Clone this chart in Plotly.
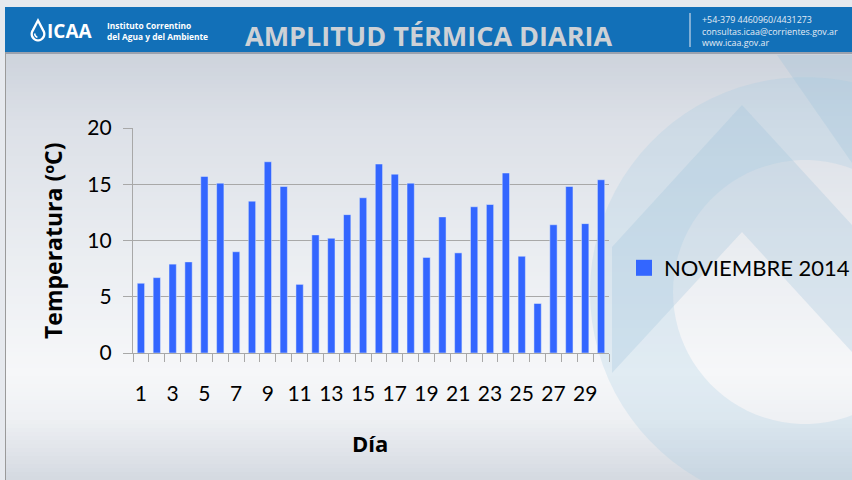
import math
import plotly.graph_objects as go

# Daily thermal amplitude, November 2014
dias = list(range(1, 31))
amplitud = [6.2, 6.7, 7.9, 8.1, 15.7, 15.1, 9.0, 13.5, 17.0, 14.8,
            6.1, 10.5, 10.2, 12.3, 13.8, 16.8, 15.9, 15.1, 8.5, 12.1,
            8.9, 13.0, 13.2, 16.0, 8.6, 4.4, 11.4, 14.8, 11.5, 15.4]
serie = "NOVIEMBRE 2014"
etiquetas_x = [d for d in dias if d % 2 == 1]
etiquetas_y = [0, 5, 10, 15, 20]

W, H = 852, 480
PL, PR, PT, PB = 133, 609, 128, 353
BAR = "#3366ff"
GRID = "#a8a8a8"
FONT = "Lato"
BOLD = "Open Sans"


def px(x):
    return (x - PL) / (PR - PL)


def py(y):
    return (PB - y) / (PB - PT)


def poly(points):
    return "M" + "L".join(f"{px(x):.5f},{py(y):.5f}" for x, y in points) + "Z"


def lerp_hex(c1, c2, t):
    a = [int(c1[i:i + 2], 16) for i in (1, 3, 5)]
    b = [int(c2[i:i + 2], 16) for i in (1, 3, 5)]
    return "#" + "".join(f"{round(a[k] + (b[k] - a[k]) * t):02x}" for k in range(3))


shapes = []

# slide background: vertical gradient built from thin bands
stops = [(52, "#cdd3dc"), (120, "#dce0e7"), (250, "#eaedf1"),
         (370, "#f6f7f9"), (415, "#eff1f4"), (480, "#d3d8e0")]
y = 52
step = 4
while y < H:
    for (y0, c0), (y1, c1) in zip(stops, stops[1:]):
        if y0 <= y <= y1:
            col = lerp_hex(c0, c1, (y - y0) / (y1 - y0))
            break
    shapes.append(dict(type="rect", xref="paper", yref="paper",
                       x0=px(5), x1=px(W), y0=py(y + step + 0.5), y1=py(y),
                       fillcolor=col, line_width=0, layer="below"))
    y += step

# watermark: chevron and ring of the institute's logo
wm = "rgba(150,190,215,0.26)"
shapes.append(dict(type="path", xref="paper", yref="paper", layer="below",
                   path=poly([(777, 55), (852, 55), (852, 163)]),
                   fillcolor=wm, line_width=0))
shapes.append(dict(type="path", xref="paper", yref="paper", layer="below",
                   path=poly([(742, 105), (852, 225), (852, 352), (742, 232),
                              (612, 373), (612, 247)]),
                   fillcolor=wm, line_width=0))

cx, cy, r_out, r_in = 805, 292, 215, 132
outer = [(cx + r_out * math.cos(math.radians(a)), cy + r_out * math.sin(math.radians(a)))
         for a in range(0, 361, 4)]
inner = [(cx + r_in * math.cos(math.radians(a)), cy + r_in * math.sin(math.radians(a)))
         for a in range(360, -1, -4)]
ring = poly(outer) + poly(inner)
shapes.append(dict(type="path", xref="paper", yref="paper", layer="below",
                   path=ring, fillcolor="rgba(160,200,225,0.24)", line_width=0))

# header band
shapes.append(dict(type="rect", xref="paper", yref="paper", layer="below",
                   x0=px(5), x1=px(W), y0=py(54), y1=py(52),
                   fillcolor="rgba(60,70,90,0.35)", line_width=0))
shapes.append(dict(type="rect", xref="paper", yref="paper", layer="below",
                   x0=px(5), x1=px(W), y0=py(52), y1=py(7),
                   fillcolor="#1270b8", line_width=0))
# left frame line
shapes.append(dict(type="line", xref="paper", yref="paper", layer="below",
                   x0=px(5.5), x1=px(5.5), y0=py(H), y1=py(52),
                   line=dict(color="#9a9a9a", width=1)))
# divider beside the contact block
shapes.append(dict(type="line", xref="paper", yref="paper", layer="below",
                   x0=px(690), x1=px(690), y0=py(47), y1=py(13),
                   line=dict(color="#c9d9ea", width=1.2)))

# drop symbol
dcx, dcy, dr = 38, 34, 6.3
drop = [(38, 20.5)]
drop += [(dcx + dr * math.cos(math.radians(a)), dcy + dr * math.sin(math.radians(a)))
         for a in range(-35, 216, 10)]
shapes.append(dict(type="path", xref="paper", yref="paper", layer="above",
                   path=poly(drop), fillcolor="rgba(0,0,0,0)",
                   line=dict(color="white", width=2.3)))
shapes.append(dict(type="path", xref="paper", yref="paper", layer="above",
                   path="M" + "L".join(f"{px(dcx + 3.2 * math.cos(math.radians(a))):.5f},"
                                       f"{py(dcy + 3.2 * math.sin(math.radians(a))):.5f}"
                                       for a in range(100, 200, 15)),
                   line=dict(color="white", width=1.6)))

annotations = [
    dict(text="<b>AMPLITUD TÉRMICA DIARIA</b>", x=px(428), y=py(35),
         font=dict(family=BOLD, size=27, color="#cdd1d6")),
    dict(text="<b>ICAA</b>", x=px(70), y=py(31),
         font=dict(family=BOLD, size=19, color="white")),
    dict(text="<b>Instituto Correntino<br>del Agua y del Ambiente</b>", x=px(105), y=py(30.5),
         xanchor="left", align="left",
         font=dict(family=BOLD, size=8.4, color="white")),
    dict(text="+54-379 4460960/4431273<br>consultas.icaa@corrientes.gov.ar<br>www.icaa.gov.ar",
         x=px(700), y=py(30.5), xanchor="left", align="left",
         font=dict(family=BOLD, size=8.9, color="#e4ecf5")),
    dict(text="<b>Día</b>", x=px(370), y=py(443),
         font=dict(family=BOLD, size=22, color="black")),
    dict(text="<b>Temperatura (ºC)</b>", x=px(53), y=py(241), textangle=-90,
         font=dict(family=BOLD, size=23, color="black")),
]
for a in annotations:
    a.update(xref="paper", yref="paper", showarrow=False)
    a.setdefault("xanchor", "center")
    a.setdefault("yanchor", "middle")

fig = go.Figure()
fig.add_trace(go.Bar(x=dias, y=amplitud, marker_color=BAR, showlegend=False,
                     name=serie))
# legend entry with a larger square key
fig.add_trace(go.Scatter(x=[None], y=[None], mode="markers", name=serie,
                         marker=dict(symbol="square", size=17, color=BAR)))

fronteras = [d - 0.5 for d in dias] + [dias[-1] + 0.5]

fig.update_layout(
    width=W, height=H,
    margin=dict(l=PL, r=W - PR, t=PT, b=H - PB, pad=0, autoexpand=False),
    paper_bgcolor="#e6e9ee",
    plot_bgcolor="rgba(0,0,0,0)",
    bargap=0.54,
    shapes=shapes,
    annotations=annotations,
    font=dict(family=FONT, color="black"),
    legend=dict(x=px(624), y=py(268), xanchor="left", yanchor="middle",
                bgcolor="rgba(0,0,0,0)", font=dict(family=FONT, size=22, color="black"),
                itemwidth=30, tracegroupgap=0),
    xaxis=dict(range=[0.5, 30.5], tickmode="array", tickvals=etiquetas_x,
               ticks="outside", ticklen=22, tickcolor="rgba(0,0,0,0)",
               tickfont=dict(size=21, color="black"),
               showgrid=False, zeroline=False,
               showline=True, linecolor=GRID, linewidth=1.3,
               minor=dict(tickmode="array", tickvals=fronteras, ticks="outside",
                          ticklen=8, tickcolor=GRID, tickwidth=1.3, showgrid=False)),
    yaxis=dict(range=[0, 20], tickmode="array", tickvals=etiquetas_y,
               ticks="outside", ticklen=9, tickcolor=GRID, tickwidth=1.3,
               ticklabelstandoff=7,
               tickfont=dict(size=21, color="black"),
               showgrid=True, gridcolor=GRID, gridwidth=1.3, zeroline=False,
               showline=True, linecolor=GRID, linewidth=1.3),
)

fig.write_html("out.html")
